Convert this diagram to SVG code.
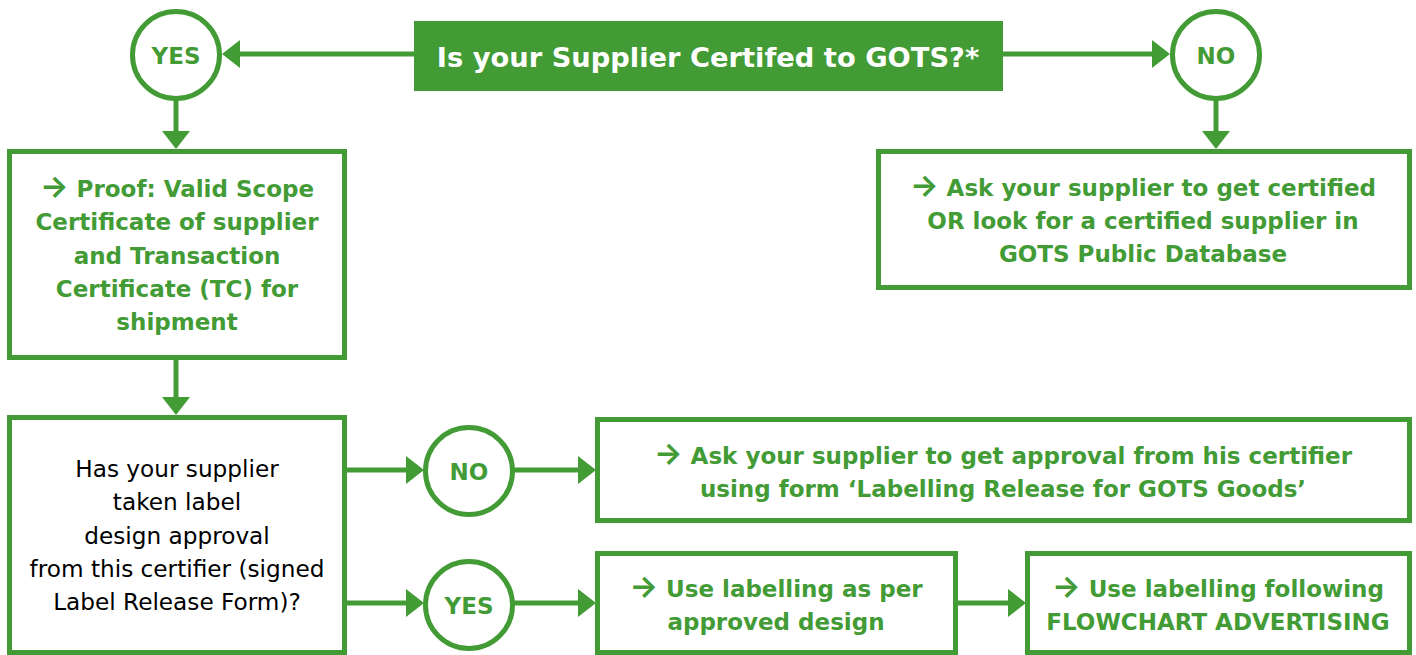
<svg xmlns="http://www.w3.org/2000/svg" width="1416" height="655" viewBox="0 0 1416 655">
<defs>
<style>
.box{fill:#fff;stroke:#429b35;stroke-width:5}
.circ{fill:#fff;stroke:#429b35;stroke-width:5}
.ln{stroke:#429b35;stroke-width:5;fill:none}
.ah{fill:#429b35}
.g{font-family:"DejaVu Sans",sans-serif;font-weight:bold;fill:#429b35;text-anchor:middle;font-size:23px}
.ar{font-family:Inter,sans-serif;font-weight:bold;font-size:30px}
.lbl{font-family:"DejaVu Sans",sans-serif;font-weight:bold;fill:#429b35;text-anchor:middle;font-size:23px}
.k{font-family:"DejaVu Sans",sans-serif;fill:#000;text-anchor:middle;font-size:23.2px}
.h{font-family:"DejaVu Sans",sans-serif;font-weight:bold;fill:#fff;text-anchor:middle;font-size:27.3px}
</style>
</defs>
<g id="connectors">
<line class="ln" x1="414" y1="54" x2="238" y2="54"/>
<polygon class="ah" points="222,54 240,40 240,68"/>
<line class="ln" x1="1003" y1="54" x2="1154" y2="54"/>
<polygon class="ah" points="1170,54 1152,40 1152,68"/>
<line class="ln" x1="176" y1="100" x2="176" y2="134"/>
<polygon class="ah" points="176,149 162,131 190,131"/>
<line class="ln" x1="1216" y1="100" x2="1216" y2="134"/>
<polygon class="ah" points="1216,149 1202,131 1230,131"/>
<line class="ln" x1="176" y1="358" x2="176" y2="400"/>
<polygon class="ah" points="176,415 162,397 190,397"/>
<line class="ln" x1="345" y1="470" x2="408" y2="470"/>
<polygon class="ah" points="424,470 406,456 406,484"/>
<line class="ln" x1="514" y1="470" x2="580" y2="470"/>
<polygon class="ah" points="596,470 578,456 578,484"/>
<line class="ln" x1="345" y1="603" x2="408" y2="603"/>
<polygon class="ah" points="424,603 406,589 406,617"/>
<line class="ln" x1="514" y1="603" x2="580" y2="603"/>
<polygon class="ah" points="596,603 578,589 578,617"/>
<line class="ln" x1="956" y1="603" x2="1010" y2="603"/>
<polygon class="ah" points="1026,603 1008,589 1008,617"/>
</g>
<g id="question">
<rect x="414" y="21" width="589" height="70" fill="#429b35"/>
<text class="h" x="708" y="67">Is your Supplier Certifed to GOTS?*</text>
</g>
<g id="yes-top">
<circle class="circ" cx="176" cy="55" r="43.5"/>
<text class="lbl" x="176" y="64">YES</text>
</g>
<g id="no-top">
<circle class="circ" cx="1216" cy="55" r="43.5"/>
<text class="lbl" x="1216" y="64">NO</text>
</g>
<g id="proof">
<rect class="box" x="9.5" y="151.5" width="335" height="206"/>
<text class="g" x="177" y="197"><tspan class="ar">→</tspan> Proof: Valid Scope</text>
<text class="g" x="177" y="230">Certificate of supplier</text>
<text class="g" x="177" y="264">and Transaction</text>
<text class="g" x="177" y="297">Certificate (TC) for</text>
<text class="g" x="177" y="330">shipment</text>
</g>
<g id="ask-certified">
<rect class="box" x="878.5" y="151.5" width="531" height="136"/>
<text class="g" x="1143" y="196"><tspan class="ar">→</tspan> Ask your supplier to get certified</text>
<text class="g" x="1143" y="229">OR look for a certified supplier in</text>
<text class="g" x="1143" y="262">GOTS Public Database</text>
</g>
<g id="approval-question">
<rect class="box" x="9.5" y="417.5" width="335" height="235"/>
<text class="k" x="177" y="477">Has your supplier</text>
<text class="k" x="177" y="510">taken label</text>
<text class="k" x="177" y="544">design approval</text>
<text class="k" x="177" y="577">from this certifier (signed</text>
<text class="k" x="177" y="610">Label Release Form)?</text>
</g>
<g id="no-mid">
<circle class="circ" cx="469" cy="471" r="43.5"/>
<text class="lbl" x="469" y="480">NO</text>
</g>
<g id="yes-bottom">
<circle class="circ" cx="469" cy="605" r="43.5"/>
<text class="lbl" x="469" y="614">YES</text>
</g>
<g id="ask-approval">
<rect class="box" x="597.5" y="419.5" width="812" height="101"/>
<text class="g" x="1003" y="464"><tspan class="ar">→</tspan> Ask your supplier to get approval from his certifier</text>
<text class="g" x="1003" y="497">using form ‘Labelling Release for GOTS Goods’</text>
</g>
<g id="use-approved">
<rect class="box" x="597.5" y="553.5" width="358" height="99"/>
<text class="g" x="776" y="597"><tspan class="ar">→</tspan> Use labelling as per</text>
<text class="g" x="776" y="630">approved design</text>
</g>
<g id="use-flowchart">
<rect class="box" x="1027.5" y="553.5" width="382" height="99"/>
<text class="g" x="1218" y="597"><tspan class="ar">→</tspan> Use labelling following</text>
<text class="g" x="1218" y="630">FLOWCHART ADVERTISING</text>
</g>
</svg>
